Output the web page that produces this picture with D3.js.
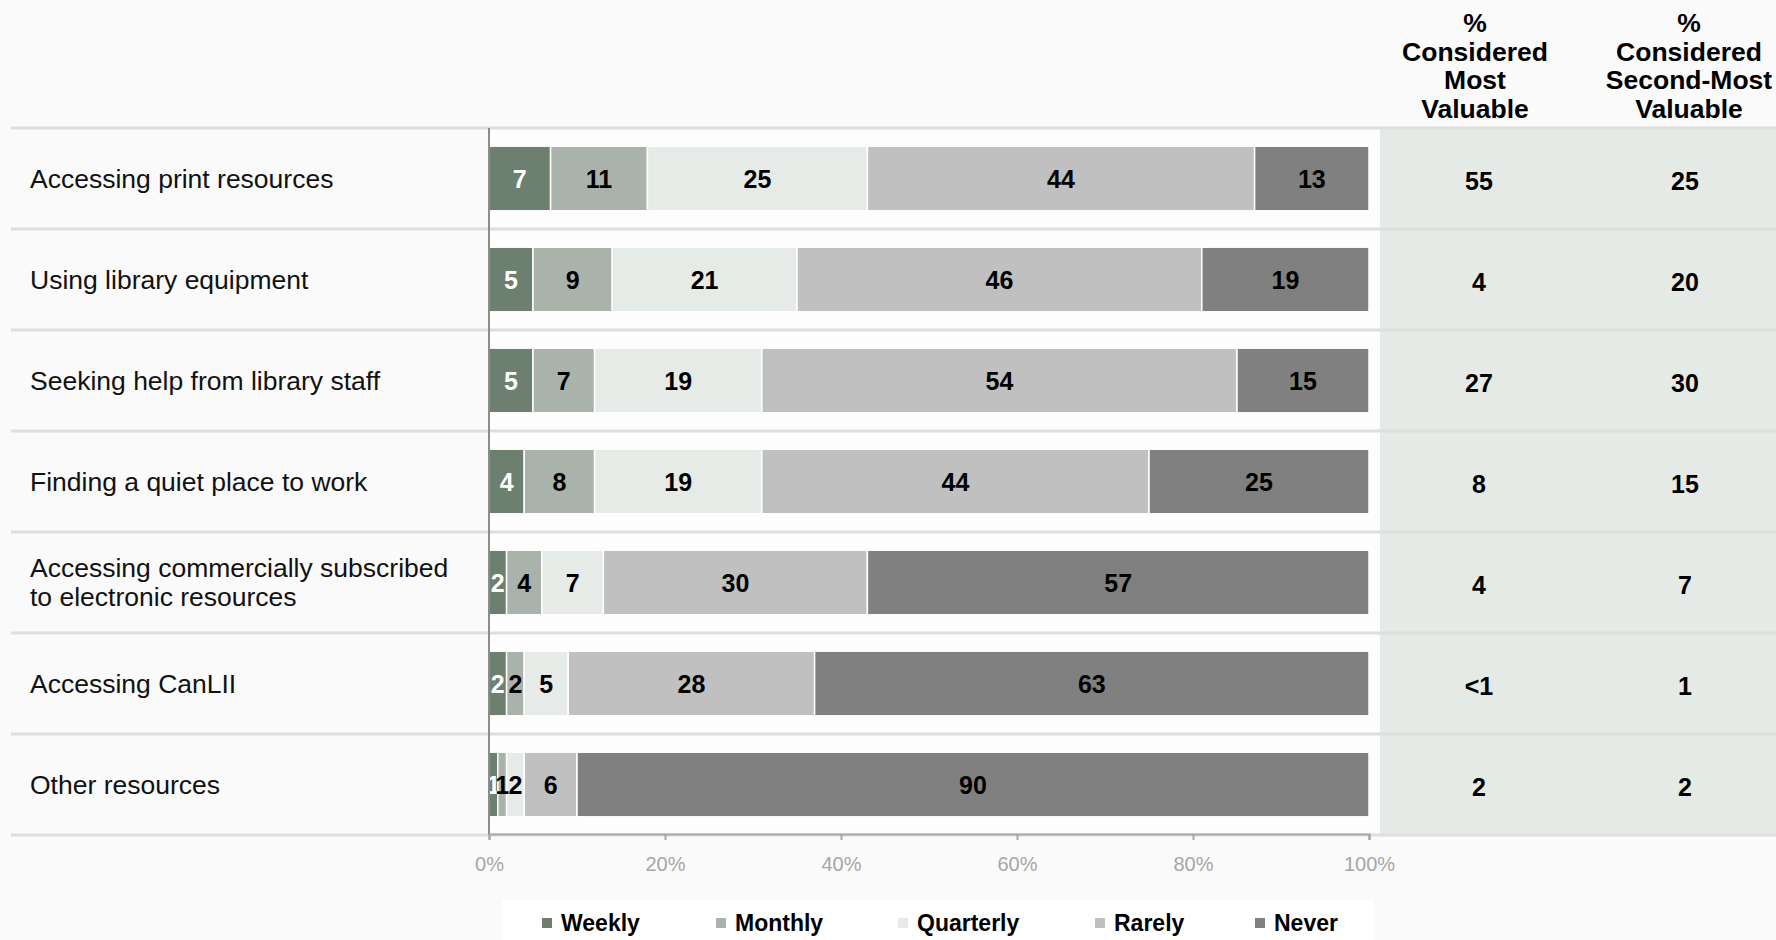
<!DOCTYPE html>
<html>
<head>
<meta charset="utf-8">
<script src="https://cdn.jsdelivr.net/npm/d3@7"></script>
<style>
  html, body { margin: 0; padding: 0; background: #fafafa; }
  svg { display: block; font-family: "Liberation Sans", Arial, sans-serif; }
</style>
</head>
<body>
<svg id="chart" width="1776" height="940"></svg>
<script>
// ---- Data ----
const categories = [
  ["Accessing print resources"],
  ["Using library equipment"],
  ["Seeking help from library staff"],
  ["Finding a quiet place to work"],
  ["Accessing commercially subscribed", "to electronic resources"],
  ["Accessing CanLII"],
  ["Other resources"]
];
const seriesNames = ["Weekly", "Monthly", "Quarterly", "Rarely", "Never"];
const weekly    = [7, 5, 5, 4, 2, 2, 1];
const monthly   = [11, 9, 7, 8, 4, 2, 1];
const quarterly = [25, 21, 19, 19, 7, 5, 2];
const rarely    = [44, 46, 54, 44, 30, 28, 6];
const never     = [13, 19, 15, 25, 57, 63, 90];
const mostValuable       = ["55", "4", "27", "8", "4", "<1", "2"];
const secondMostValuable = ["25", "20", "30", "15", "7", "1", "2"];
const tickValues = [0, 20, 40, 60, 80, 100];
const colHeaders = [
  ["%", "Considered", "Most", "Valuable"],
  ["%", "Considered", "Second-Most", "Valuable"]
];

// ---- Styles ----
const colors = ["#6d7f6f", "#aab3ab", "#e6ebe7", "#c0c0c0", "#808080"];
const labelColors = ["#ffffff", "#000000", "#000000", "#000000", "#000000"];

const svg = d3.select("#chart");
const W = 1776, H = 940;

const rowTop = 128, rowBottom = 835;
const plotLeft = 489, plotRight = 1369;
const panelLeft = 1380;

const rows = categories.map((c, i) => i);
const y = d3.scaleBand().domain(rows).range([rowTop, rowBottom]).padding(0);
const barH = y.bandwidth() * 0.64;
const x = d3.scaleLinear().domain([0, 100]).range([plotLeft, plotRight]);

const seriesData = [weekly, monthly, quarterly, rarely, never];
const table = rows.map(i => {
  const o = { idx: i };
  seriesNames.forEach((s, k) => o[s] = seriesData[k][i]);
  return o;
});
const stack = d3.stack().keys(seriesNames)(table);

// backgrounds
svg.append("rect").attr("x", 0).attr("y", 0).attr("width", W).attr("height", H).attr("fill", "#fafafa");
svg.append("rect").attr("x", plotLeft).attr("y", rowTop).attr("width", panelLeft - plotLeft)
  .attr("height", rowBottom - rowTop).attr("fill", "#fdfdfd");
svg.append("rect").attr("x", panelLeft).attr("y", rowTop).attr("width", W - panelLeft)
  .attr("height", rowBottom - rowTop).attr("fill", "#e6eae6");

// row separators
const seps = rows.map(i => y(i)).concat([rowBottom]);
svg.append("g").selectAll("line").data(seps).join("line")
  .attr("x1", 11).attr("x2", W)
  .attr("y1", d => d).attr("y2", d => d)
  .attr("stroke", "#dedede").attr("stroke-width", 3);

// bars
const gBars = svg.append("g");
stack.forEach((layer, k) => {
  const g = gBars.append("g");
  g.selectAll("rect").data(layer).join("rect")
    .attr("x", d => x(d[0]))
    .attr("y", d => y(d.data.idx) + (y.bandwidth() - barH) / 2)
    .attr("width", d => x(d[1]) - x(d[0]))
    .attr("height", barH)
    .attr("fill", colors[k])
    .attr("stroke", "#ffffff").attr("stroke-width", 1.5);
});
// bar labels
stack.forEach((layer, k) => {
  gBars.append("g").selectAll("text").data(layer).join("text")
    .attr("x", d => (x(d[0]) + x(d[1])) / 2)
    .attr("y", d => y(d.data.idx) + y.bandwidth() / 2)
    .attr("text-anchor", "middle").attr("dominant-baseline", "central")
    .attr("font-size", 25).attr("font-weight", "bold")
    .attr("fill", labelColors[k])
    .text(d => d[1] - d[0]);
});

// vertical axis line at 0
svg.append("line").attr("x1", plotLeft).attr("x2", plotLeft)
  .attr("y1", rowTop).attr("y2", rowBottom)
  .attr("stroke", "#8c8c8c").attr("stroke-width", 2);

// bottom axis
const axis = d3.axisBottom(x).tickValues(tickValues).tickFormat(d => d + "%").tickSize(6).tickPadding(17);
const gAxis = svg.append("g").attr("transform", `translate(0,${rowBottom - 1})`).call(axis);
gAxis.select(".domain").attr("stroke", "#a6a6a6").attr("stroke-width", 2);
gAxis.selectAll(".tick line").attr("stroke", "#a6a6a6").attr("stroke-width", 2);
gAxis.selectAll(".tick text").attr("fill", "#a6a6a6").attr("font-size", 20)
  .attr("font-family", "'Liberation Sans', Arial, sans-serif");

// category labels
const gLab = svg.append("g");
categories.forEach((lines, i) => {
  const cy = y(i) + y.bandwidth() / 2;
  const t = gLab.append("text").attr("x", 30).attr("font-size", 26.5).attr("fill", "#111");
  lines.forEach((ln, j) => {
    t.append("tspan").attr("x", 30)
      .attr("y", cy + (j - (lines.length - 1) / 2) * 29)
      .attr("dominant-baseline", "central").text(ln);
  });
});

// right columns
const colX = [1479, 1685];
const headX = [1475, 1689];
[mostValuable, secondMostValuable].forEach((vals, c) => {
  svg.append("g").selectAll("text").data(vals).join("text")
    .attr("x", colX[c])
    .attr("y", (d, i) => y(i) + y.bandwidth() / 2 + 2)
    .attr("text-anchor", "middle").attr("dominant-baseline", "central")
    .attr("font-size", 25).attr("font-weight", "bold").attr("fill", "#000")
    .text(d => d);
  const t = svg.append("text").attr("text-anchor", "middle")
    .attr("font-size", 26.5).attr("font-weight", "bold").attr("fill", "#000");
  colHeaders[c].forEach((ln, j) => {
    t.append("tspan").attr("x", headX[c]).attr("y", 23 + j * 28.5)
      .attr("dominant-baseline", "central").text(ln);
  });
});

// legend
const legendBox = { x: 502, y: 900, w: 872, h: 40 };
svg.append("rect").attr("x", legendBox.x).attr("y", legendBox.y)
  .attr("width", legendBox.w).attr("height", legendBox.h).attr("fill", "#ffffff");
const legendX = [547, 721, 903, 1100, 1260];
const gLeg = svg.append("g").selectAll("g").data(seriesNames).join("g")
  .attr("transform", (d, i) => `translate(${legendX[i]},923)`);
gLeg.append("rect").attr("x", -5).attr("y", -5).attr("width", 10).attr("height", 10)
  .attr("fill", (d, i) => colors[i]);
gLeg.append("text").attr("x", 14).attr("y", 0).attr("dominant-baseline", "central")
  .attr("font-size", 23).attr("font-weight", "bold").attr("fill", "#000")
  .text(d => d);
</script>
</body>
</html>
